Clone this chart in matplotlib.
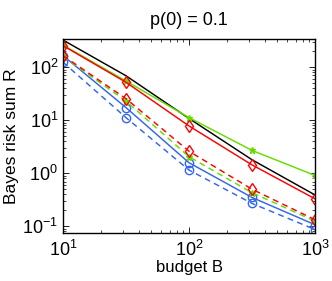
import matplotlib
matplotlib.use("Agg")
import matplotlib.pyplot as plt
from matplotlib.ticker import LogLocator, LogFormatterMathtext, NullFormatter

plt.rcParams['font.family'] = ['Liberation Sans', 'DejaVu Sans']
plt.rcParams['mathtext.fontset'] = 'custom'
plt.rcParams['mathtext.rm'] = 'Liberation Sans'
plt.rcParams['mathtext.it'] = 'Liberation Sans'
plt.rcParams['mathtext.default'] = 'regular'

budget = [10, 31.6, 100, 316, 1000]
black_solid = [325, 69, 10.8, 1.8, 0.39]
green_solid = [262, 55, 11.2, 2.7, 0.91]
red_solid = [255, 52, 7.8, 1.44, 0.33]
red_dashed = [165, 25.5, 2.6, 0.50, 0.133]
green_dashed = [160, 23, 2.05, 0.43, 0.125]
blue_solid = [165, 17.3, 1.58, 0.35, 0.107]
blue_dashed = [124, 11.2, 1.15, 0.27, 0.087]

GREEN = '#66dd00'
BLUE = '#3366ee'
RED = '#ff0000'

fig = plt.figure(figsize=(3.32, 2.81), dpi=100)
ax = fig.add_axes([0.19, 0.171, 0.759, 0.69])

lw = 1.05
ax.plot(budget, black_solid, '-', color='black', lw=lw)
ax.plot(budget, blue_dashed, '--', color=BLUE, lw=lw, marker='o', mfc='none', ms=6, mew=1.0, dashes=(4, 3))
ax.plot(budget, blue_solid, '-', color=BLUE, lw=lw, marker='o', mfc='none', ms=6, mew=1.0)
ax.plot(budget, green_dashed, '--', color=GREEN, lw=lw, marker='*', ms=5, dashes=(4, 3))
ax.plot(budget, green_solid, '-', color=GREEN, lw=lw, marker='*', ms=5)
ax.plot(budget, red_dashed, '--', color=RED, lw=lw, marker='d', mfc='none', ms=6, mew=1.0, dashes=(4, 3))
ax.plot(budget, red_solid, '-', color=RED, lw=lw, marker='d', mfc='none', ms=6, mew=1.0)

ax.set_xscale('log')
ax.set_yscale('log')
ax.set_xlim(10, 1000)
ax.set_ylim(0.075, 340)
ax.xaxis.set_major_locator(LogLocator(base=10, numticks=10))
ax.yaxis.set_major_locator(LogLocator(base=10, numticks=10))
ax.xaxis.set_major_formatter(LogFormatterMathtext())
ax.yaxis.set_major_formatter(LogFormatterMathtext())
ax.xaxis.set_minor_formatter(NullFormatter())
ax.yaxis.set_minor_formatter(NullFormatter())
ax.tick_params(which='both', direction='in', top=True, right=True, labelsize=13)
ax.tick_params(which='major', length=4, width=0.6)
ax.tick_params(which='minor', length=2, width=0.5)
ax.tick_params(axis='x', pad=5)
for s in ax.spines.values():
    s.set_linewidth(1.0)

ax.set_xlabel('budget B', fontsize=12, labelpad=0)
ax.set_ylabel('Bayes risk sum R', fontsize=12.5, labelpad=2)
ax.set_title('p(0) = 0.1', fontsize=13, pad=10)

fig.savefig('out.png', dpi=100)
